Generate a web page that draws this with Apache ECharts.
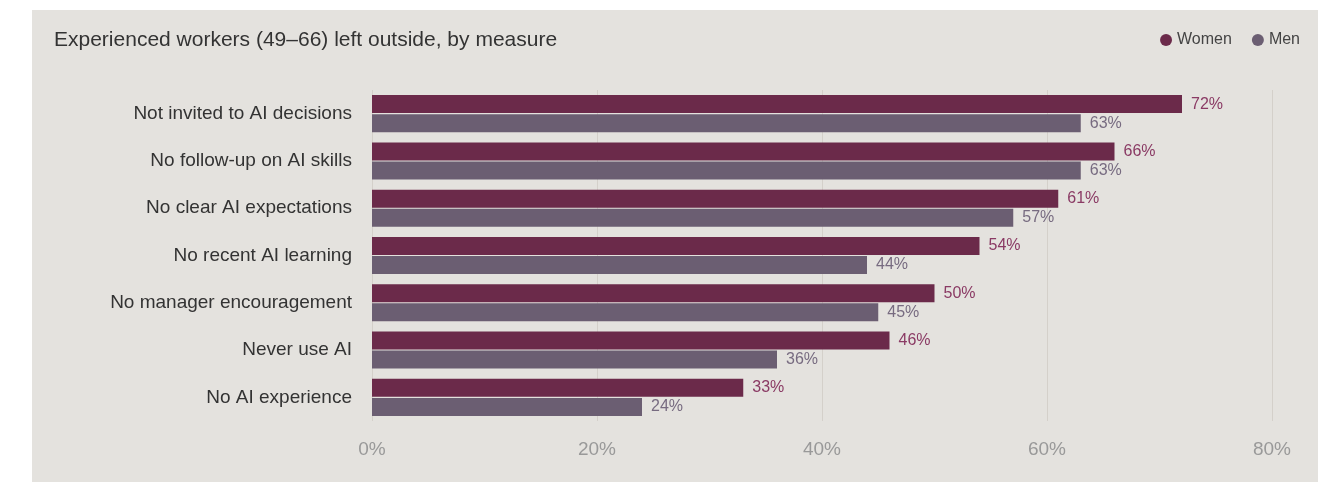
<!DOCTYPE html>
<html>
<head>
<meta charset="utf-8">
<script src="https://cdn.jsdelivr.net/npm/echarts@6/dist/echarts.min.js"></script>
<style>
  html, body { margin: 0; padding: 0; background: #ffffff; }
  #chart { width: 1333px; height: 482px; }
</style>
</head>
<body>
<div id="chart"></div>
<script>
// Measures, listed top to bottom
const categories = [
  'Not invited to AI decisions',
  'No follow-up on AI skills',
  'No clear AI expectations',
  'No recent AI learning',
  'No manager encouragement',
  'Never use AI',
  'No AI experience'
];
// Share left outside, in percent
const women = [72, 66, 61, 54, 50, 46, 33];
const men = [63, 63, 57, 44, 45, 36, 24];
const xTicks = [0, 20, 40, 60, 80];

const FONT = '"Liberation Sans", Arial, Helvetica, sans-serif';
const WOMEN_COLOR = '#6b2a4a';
const MEN_COLOR = '#6b5e72';

const chart = echarts.init(document.getElementById('chart'), null, { renderer: 'canvas' });

chart.setOption({
  backgroundColor: '#ffffff',
  animation: false,
  textStyle: { fontFamily: FONT },
  graphic: [{
    type: 'rect',
    z: -10,
    silent: true,
    shape: { x: 32, y: 10, width: 1286, height: 472 },
    style: { fill: '#e4e2de' }
  }],
  title: {
    text: 'Experienced workers (49\u201366) left outside, by measure',
    left: 49,
    top: 25,
    textStyle: { fontFamily: FONT, fontSize: 21, fontWeight: 'normal', color: '#333333' }
  },
  legend: {
    right: 28,
    top: 27,
    icon: 'circle',
    itemWidth: 12,
    itemHeight: 12,
    itemGap: 20,
    textStyle: { fontFamily: FONT, fontSize: 16, color: '#444444' },
    data: ['Women', 'Men']
  },
  grid: { left: 372, right: 61, top: 90, bottom: 61 },
  xAxis: {
    type: 'value',
    min: xTicks[0],
    max: xTicks[xTicks.length - 1],
    interval: 20,
    axisLine: { show: false },
    axisTick: { show: false },
    splitLine: { show: true, lineStyle: { color: '#d4d0ca', width: 1 } },
    axisLabel: {
      fontFamily: FONT,
      fontSize: 19,
      color: '#999999',
      margin: 19,
      formatter: v => v + '%'
    }
  },
  yAxis: {
    type: 'category',
    inverse: true,
    data: categories,
    axisLine: { show: false },
    axisTick: { show: false },
    axisLabel: { fontFamily: FONT, fontSize: 19, color: '#333333', margin: 20, padding: [7, 0, 0, 0] }
  },
  series: [
    {
      name: 'Women',
      type: 'bar',
      data: women,
      barWidth: 18,
      barGap: '6%',
      itemStyle: { color: WOMEN_COLOR },
      label: {
        show: true,
        position: 'right',
        distance: 9,
        formatter: p => p.value + '%',
        fontFamily: FONT,
        fontSize: 16,
        color: '#8a3a64'
      }
    },
    {
      name: 'Men',
      type: 'bar',
      data: men,
      barWidth: 18,
      itemStyle: { color: MEN_COLOR },
      label: {
        show: true,
        position: 'right',
        distance: 9,
        formatter: p => p.value + '%',
        fontFamily: FONT,
        fontSize: 16,
        color: '#776b80'
      }
    }
  ]
});
</script>
</body>
</html>
